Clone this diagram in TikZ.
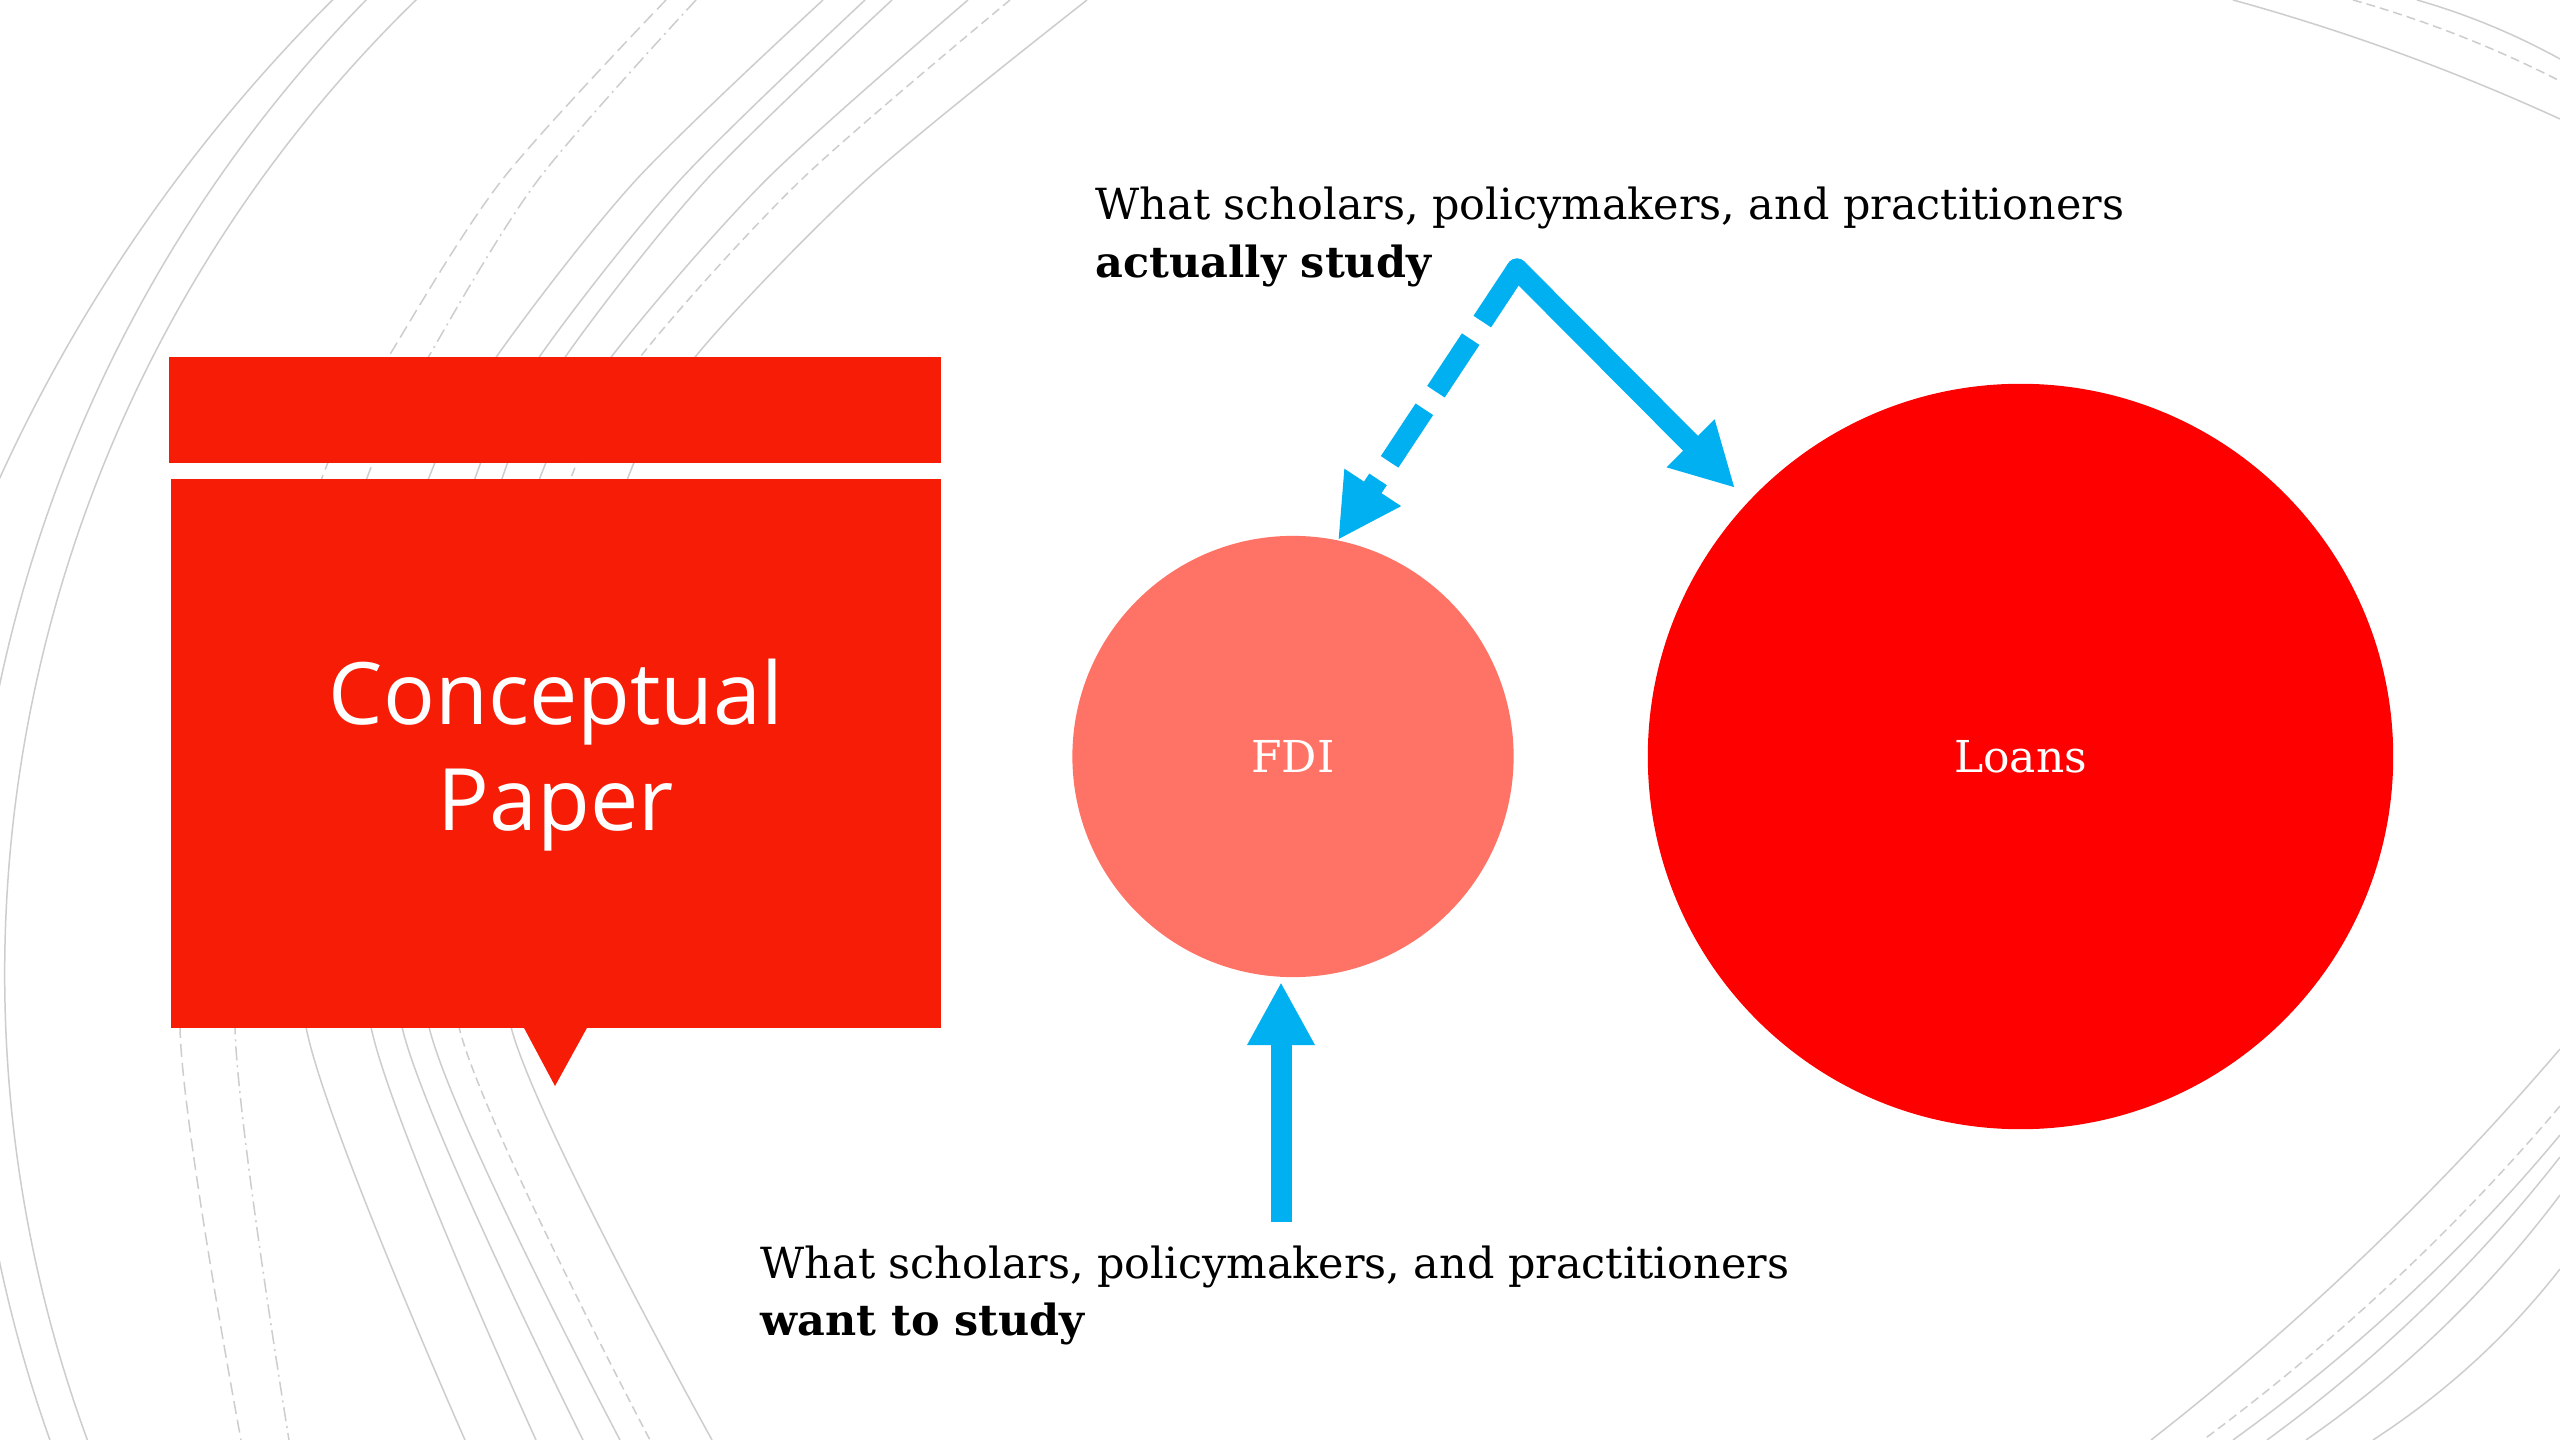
\documentclass[tikz,border=0pt]{standalone}
\usepackage{fontspec}
\usetikzlibrary{arrows.meta}
\newfontfamily\slabfont{DejaVu Serif}
\newfontfamily\titlefont{Open Sans}
\definecolor{boxred}{RGB}{246,28,6}
\definecolor{fdicol}{RGB}{255,115,102}
\definecolor{loanscol}{RGB}{255,0,0}
\definecolor{arrowcyan}{RGB}{0,176,240}
\definecolor{arcgrey}{RGB}{205,205,205}
\tikzset{
 arcline/.style={draw=arcgrey, line width=0.015cm},
 arcdash/.style={arcline, dash pattern=on 0.13cm off 0.06cm},
 arcshortdash/.style={arcline, dash pattern=on 0.09cm off 0.05cm},
 arcdashdot/.style={arcline, dash pattern=on 0.14cm off 0.05cm on 0.02cm off 0.05cm},
 bodytext/.style={inner sep=0, font=\slabfont\fontsize{12.2pt}{16.5pt}\selectfont, anchor=base west},
 bubble/.style={circle, inner sep=0, text=white, font=\slabfont\fontsize{12.5pt}{15pt}\selectfont},
 cyanarrow/.style={draw=arrowcyan, line width=0.21cm, -{Triangle[width=0.63cm,length=0.63cm]}},
}
\begin{document}
\begin{tikzpicture}[x=0.01cm,y=-0.01cm]
\useasboundingbox (0,0) rectangle (2560,1440);
\fill[white] (0,0) rectangle (2560,1440);
\begin{scope}
\clip (0,0) rectangle (2560,1440);
% outer left arcs
\draw[arcline] (353,-20) arc[start angle=133.84, end angle=158.61, radius=16.27cm];
\draw[arcline] (386,-20) arc[start angle=134.5, end angle=200.5, radius=13.92cm];
\draw[arcline] (437,-20) arc[start angle=132.97, end angle=201.03, radius=13.57cm];
% inner left arcs
\draw[arcdash] plot[smooth] coordinates {(666,0) (502,180) (389,356) (325,470) (230,760) (180,1027) (241,1440)};
\draw[arcdashdot] plot[smooth] coordinates {(696,0) (538,180) (429,356) (370,470) (275,760) (235,1027) (289,1440)};
\draw[arcline] plot[smooth] coordinates {(823,0) (636,180) (497,356) (432,470) (335,760) (306,1027) (465,1440)};
\draw[arcline] plot[smooth] coordinates {(865,0) (680,180) (540,356) (478,470) (395,760) (371,1027) (536,1440)};
\draw[arcline] plot[smooth] coordinates {(892,0) (706,180) (566,356) (505,470) (425,760) (402,1027) (583,1440)};
\draw[arcline] plot[smooth] coordinates {(968,0) (766,180) (612,356) (543,470) (455,760) (429,1027) (620,1440)};
\draw[arcshortdash] plot[smooth] coordinates {(1010,0) (801,180) (641,356) (574,470) (485,760) (459,1027) (650,1440)};
\draw[arcline] plot[smooth] coordinates {(1087,0) (866,180) (696,356) (631,470) (535,760) (511,1027) (712,1440)};
% top right arcs
\draw[arcline] (2233,0) .. controls (2345.2,30.9) and (2454.2,70.6) .. (2560,119);
\draw[arcshortdash] (2353,0) .. controls (2425.2,20.3) and (2494.2,47.3) .. (2560,81);
\draw[arcline] (2417,0) .. controls (2467,14.3) and (2514.6,34) .. (2560,59);
% bottom right arcs
\draw[arcline] (2560,1049) .. controls (2437,1192.7) and (2300.7,1323) .. (2151,1440);
\draw[arcshortdash] (2560,1106) .. controls (2454.3,1230.7) and (2335.3,1342) .. (2203,1440);
\draw[arcline] (2560,1135) .. controls (2464.3,1250) and (2355.3,1351.7) .. (2233,1440);
\draw[arcline] (2560,1157) .. controls (2475.7,1264.7) and (2378,1359) .. (2267,1440);
\draw[arcline] (2560,1195) .. controls (2488.7,1290) and (2404,1371.7) .. (2306,1440);
\draw[arcline] (2560,1269) .. controls (2507.7,1336) and (2445.3,1393) .. (2373,1440);
\end{scope}

% title card
\node[fill=boxred, inner sep=0, minimum width=7.72cm, minimum height=1.06cm, anchor=north west] (bar) at (168,356) {};
\node[fill=boxred, inner sep=0, minimum width=7.70cm, minimum height=5.49cm, anchor=north west] (card) at (170,478) {};
\fill[boxred] (523,1026) -- (588,1026) -- (555,1086) -- cycle;
\node[inner sep=0, text=white, align=center, font=\titlefont\fontsize{24.5pt}{30.2pt}\selectfont] (title) at (556,755) {Conceptual\\Paper};

% circles
\node[bubble, fill=fdicol, minimum size=4.41cm] (fdi) at (1293,756.5) {FDI};
\node[bubble, fill=loanscol, minimum size=7.45cm] (loans) at (2020.5,756.5) {Loans};

% texts
\node[bodytext] (topA) at (1095,220) {What scholars, policymakers, and practitioners};
\node[bodytext] (topB) at (1095,278) {\bfseries actually study};
\node[bodytext] (botA) at (760,1278) {What scholars, policymakers, and practitioners};
\node[bodytext] (botB) at (760,1335) {\bfseries want to study};

% arrows
\coordinate (bend) at (1517,269);
\coordinate (fdiTop) at (1338,540);
\coordinate (loansTop) at (1735,488);
\coordinate (wantTop) at (1281,1222);
\coordinate (fdiBot) at (1281,982);
\draw[cyanarrow, dash pattern=on 0.63cm off 0.21cm] (bend) -- (fdiTop);
\draw[cyanarrow, line cap=round] (bend) -- (loansTop);
\fill[arrowcyan] (bend) circle[radius=0.105cm];
\draw[cyanarrow] (wantTop) -- (fdiBot);
\end{tikzpicture}
\end{document}
